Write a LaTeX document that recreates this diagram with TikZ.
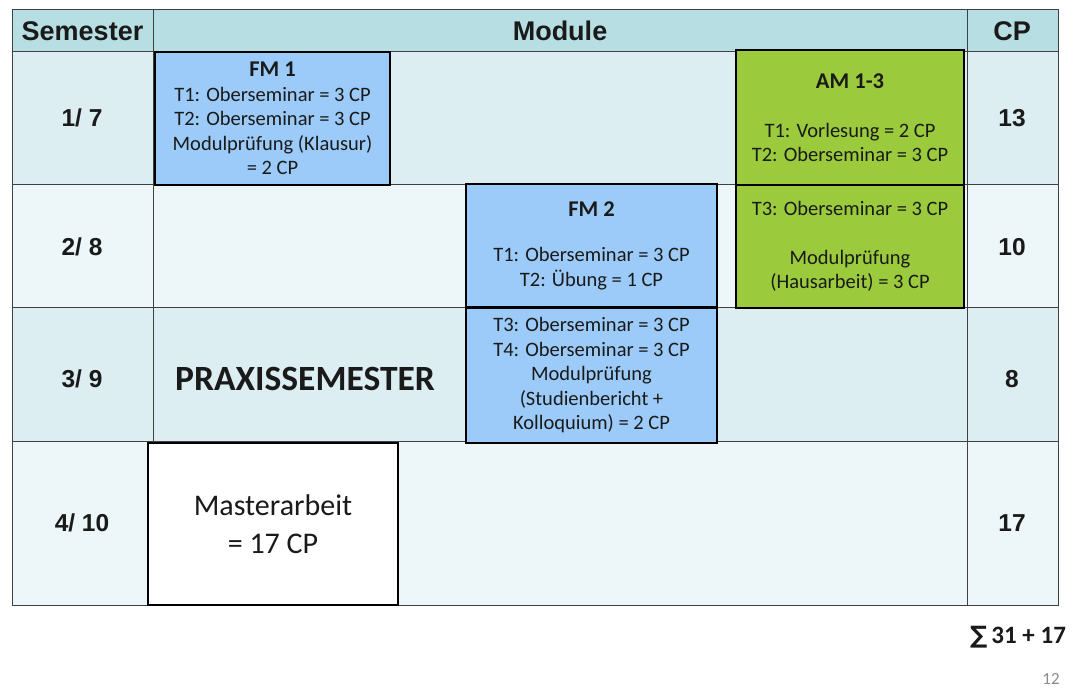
\documentclass[tikz,border=0pt]{standalone}
\usepackage{fontspec}
\setmainfont{Carlito}
\newfontfamily\arialfont{Liberation Sans}
\newfontfamily\symbfont{DejaVu Sans}
\definecolor{hdr}{HTML}{B7DEE3}
\definecolor{rowA}{HTML}{DCEEF2}
\definecolor{rowB}{HTML}{EDF6F8}
\definecolor{fmblue}{HTML}{9CCBFA}
\definecolor{amgreen}{HTML}{9BCB3C}
\definecolor{gridc}{HTML}{404040}
\definecolor{txt}{HTML}{1A1A1A}
\newcommand{\boxtitle}[1]{{\fontsize{22.5}{24.5}\selectfont\bfseries #1}}
\begin{document}
\begin{tikzpicture}[x=1pt,y=-1pt,
  gridline/.style={draw=gridc, line width=1pt},
  hdrtext/.style={font=\arialfont\bfseries\fontsize{27}{30}\selectfont, text=txt, inner sep=0pt},
  semtext/.style={font=\arialfont\bfseries\fontsize{24.5}{27}\selectfont, text=txt, inner sep=0pt},
  modbox/.style={draw=black, line width=2pt, inner sep=0pt, align=center, font=\fontsize{20.5}{24.5}\selectfont, text=txt},
]
\useasboundingbox[fill=white] (0,0) rectangle (1078,692);
% row fills
\fill[hdr] (12,10) rectangle (1058,52);
\fill[rowA] (12,52) rectangle (1058,185);
\fill[rowB] (12,185) rectangle (1058,308);
\fill[rowA] (12,308) rectangle (1058,441);
\fill[rowB] (12,441) rectangle (1058,605);
% grid
\draw[gridline] (12,10) rectangle (1058,605);
\foreach \yy in {52,185,308,441} \draw[gridline] (12,\yy) -- (1058,\yy);
\foreach \xx in {153,967} \draw[gridline] (\xx,10) -- (\xx,605);
% headers
\node[hdrtext] (hsem) at (82.5,31) {Semester};
\node[hdrtext] (hmod) at (560,31) {Module};
\node[hdrtext] (hcp) at (1012,31) {CP};
% semesters
\node[semtext] (s1) at (82,118) {1/ 7};
\node[semtext] (s2) at (82,247) {2/ 8};
\node[semtext] (s3) at (82,379) {3/ 9};
\node[semtext] (s4) at (82,523) {4/ 10};
% CP
\node[semtext] (c1) at (1012,118) {13};
\node[semtext] (c2) at (1012,247) {10};
\node[semtext] (c3) at (1012,379) {8};
\node[semtext] (c4) at (1012,523) {17};
% modules
\node[modbox, fill=fmblue, minimum width=235, minimum height=133] (fm1) at (272.5,118.5)
  {\boxtitle{FM 1}\\T1: Oberseminar = 3 CP\\T2: Oberseminar = 3 CP\\Modulprüfung (Klausur)\\= 2 CP};
\node[modbox, fill=amgreen, minimum width=228, minimum height=135] (am1) at (850,117.5)
  {\boxtitle{AM 1-3}\\[24.5pt]T1: Vorlesung = 2 CP\\T2: Oberseminar = 3 CP};
\node[modbox, fill=amgreen, minimum width=228, minimum height=123] (am2) at (850,246.5)
  {T3: Oberseminar = 3 CP\\[24.5pt]Modulprüfung\\(Hausarbeit) = 3 CP};
\node[modbox, fill=fmblue, minimum width=251, minimum height=123] (fm2a) at (591.5,245.5)
  {\boxtitle{FM 2}\\[21pt]T1: Oberseminar = 3 CP\\T2: Übung = 1 CP};
\node[modbox, fill=fmblue, minimum width=251, minimum height=135] (fm2b) at (591.5,375.5)
  {T3: Oberseminar = 3 CP\\T4: Oberseminar = 3 CP\\Modulprüfung\\(Studienbericht +\\Kolloquium) = 2 CP};
\node[modbox, fill=white, minimum width=250, minimum height=162, font=\fontsize{30}{38}\selectfont] (ma) at (273,524)
  {Masterarbeit\\= 17 CP};
\node[font=\bfseries\fontsize{35.5}{38}\selectfont, text=txt, inner sep=0pt] (praxis) at (305,379) {PRAXISSEMESTER};
% sum and page
\node[font=\bfseries\fontsize{25}{28}\selectfont, text=txt, inner sep=0pt] (sum) at (1018,637) {{\symbfont\fontsize{24}{28}\selectfont ∑}\,31 + 17};
\node[font=\fontsize{17}{20}\selectfont, text=black!45, inner sep=0pt] (page) at (1051,679) {12};
\end{tikzpicture}
\end{document}
